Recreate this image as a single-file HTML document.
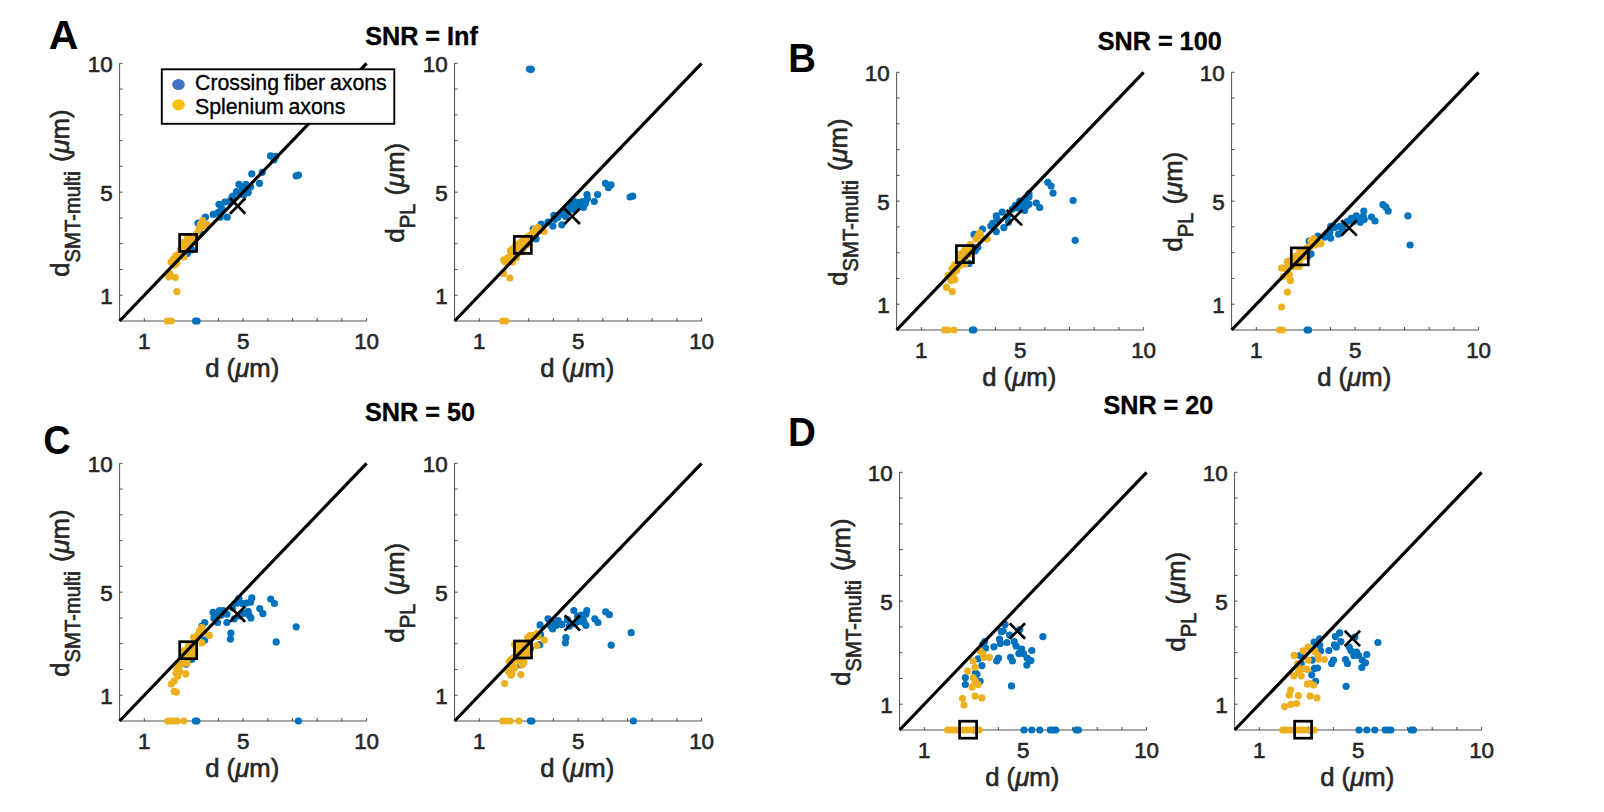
<!DOCTYPE html>
<html lang="en"><head><meta charset="utf-8"><title>Figure</title>
<style>html,body{margin:0;padding:0;background:#fff;overflow:hidden}svg{display:block}text{font-family:"Liberation Sans",Arial,Helvetica,sans-serif;fill:#262626}.t{font-size:22.4px}.l{font-size:25.7px}.s{font-size:20.3px}.t,.l{stroke:#262626;stroke-width:.6px}.ti{font-size:25.2px;font-weight:bold;fill:#000;stroke:#000;stroke-width:.35px}.pl{font-size:41px;font-weight:bold;fill:#000}.lg{font-size:21.3px;fill:#000;word-spacing:-1.2px;stroke:#000;stroke-width:.35px}.ax{stroke:#262626;stroke-width:.8;fill:none}.id{stroke:#000;stroke-width:3.2;stroke-linecap:butt}.mk{stroke:#000;stroke-width:2.7;fill:none}.b{fill:#0072BD}.y{fill:#EDB120}</style></head><body>
<svg width="1604" height="812" viewBox="0 0 1604 812">
<rect width="1604" height="812" fill="#fff"/>
<g id="A1">
<path class="ax" d="M119.60 63.30V321.00H366.60M144.30 321.00v-3M119.60 295.23h3M169.00 321.00v-3M119.60 269.46h3M193.70 321.00v-3M119.60 243.69h3M218.40 321.00v-3M119.60 217.92h3M243.10 321.00v-3M119.60 192.15h3M267.80 321.00v-3M119.60 166.38h3M292.50 321.00v-3M119.60 140.61h3M317.20 321.00v-3M119.60 114.84h3M341.90 321.00v-3M119.60 89.07h3M366.60 321.00v-3M119.60 63.30h3"/>
<g class="b"><circle cx="270.5" cy="155.9" r="3.6"/><circle cx="275.8" cy="156.4" r="3.6"/><circle cx="274.0" cy="159.9" r="3.6"/><circle cx="251.8" cy="173.9" r="3.6"/><circle cx="262.3" cy="172.3" r="3.6"/><circle cx="259.5" cy="183.3" r="3.6"/><circle cx="296.2" cy="175.8" r="3.6"/><circle cx="298.5" cy="175.1" r="3.6"/><circle cx="238.9" cy="184.4" r="3.6"/><circle cx="245.9" cy="184.4" r="3.6"/><circle cx="242.4" cy="188.0" r="3.6"/><circle cx="250.6" cy="186.8" r="3.6"/><circle cx="248.2" cy="192.6" r="3.6"/><circle cx="236.5" cy="191.5" r="3.6"/><circle cx="240.1" cy="193.8" r="3.6"/><circle cx="243.6" cy="195.0" r="3.6"/><circle cx="233.0" cy="196.1" r="3.6"/><circle cx="231.9" cy="197.3" r="3.6"/><circle cx="224.9" cy="202.0" r="3.6"/><circle cx="219.0" cy="204.3" r="3.6"/><circle cx="221.3" cy="207.8" r="3.6"/><circle cx="213.2" cy="214.4" r="3.6"/><circle cx="217.8" cy="212.5" r="3.6"/><circle cx="227.2" cy="217.2" r="3.6"/><circle cx="220.2" cy="217.2" r="3.6"/><circle cx="229.5" cy="201.3" r="3.6"/><circle cx="222.5" cy="210.2" r="3.6"/><circle cx="205.4" cy="217.2" r="3.6"/><circle cx="198.0" cy="223.0" r="3.6"/><circle cx="200.3" cy="233.6" r="3.6"/><circle cx="192.1" cy="249.9" r="3.6"/><circle cx="187.4" cy="253.5" r="3.6"/><circle cx="195.6" cy="321.0" r="3.6"/><circle cx="197.1" cy="321.0" r="3.6"/></g>
<g class="y"><circle cx="202.6" cy="220.7" r="3.6"/><circle cx="200.3" cy="224.2" r="3.6"/><circle cx="205.0" cy="225.4" r="3.6"/><circle cx="199.1" cy="228.9" r="3.6"/><circle cx="207.3" cy="224.7" r="3.6"/><circle cx="201.9" cy="227.0" r="3.6"/><circle cx="196.8" cy="233.6" r="3.6"/><circle cx="193.3" cy="238.2" r="3.6"/><circle cx="189.8" cy="240.6" r="3.6"/><circle cx="185.1" cy="242.9" r="3.6"/><circle cx="182.7" cy="245.3" r="3.6"/><circle cx="195.6" cy="235.9" r="3.6"/><circle cx="190.9" cy="242.9" r="3.6"/><circle cx="187.4" cy="245.3" r="3.6"/><circle cx="180.4" cy="249.9" r="3.6"/><circle cx="178.1" cy="254.6" r="3.6"/><circle cx="175.7" cy="255.8" r="3.6"/><circle cx="183.9" cy="257.0" r="3.6"/><circle cx="173.4" cy="259.3" r="3.6"/><circle cx="171.1" cy="262.1" r="3.6"/><circle cx="176.9" cy="262.8" r="3.6"/><circle cx="174.6" cy="265.1" r="3.6"/><circle cx="181.6" cy="252.3" r="3.6"/><circle cx="169.9" cy="273.8" r="3.6"/><circle cx="168.7" cy="276.8" r="3.6"/><circle cx="175.3" cy="277.5" r="3.6"/><circle cx="176.9" cy="291.6" r="3.6"/><circle cx="167.5" cy="321.0" r="3.6"/><circle cx="171.1" cy="321.0" r="3.6"/><circle cx="183.3" cy="242.4" r="3.6"/><circle cx="183.3" cy="246.7" r="3.6"/><circle cx="187.6" cy="238.1" r="3.6"/><circle cx="187.6" cy="242.4" r="3.6"/><circle cx="187.6" cy="246.7" r="3.6"/><circle cx="191.9" cy="238.1" r="3.6"/><circle cx="191.9" cy="242.4" r="3.6"/></g>
<line class="id" x1="119.60" y1="321.00" x2="366.60" y2="63.30"/>
<rect class="mk" x="179.6" y="234.4" width="17.0" height="17.0"/>
<path class="mk" d="M230.0 198.3l15.4 15.4M230.0 213.7l15.4 -15.4"/>
<text class="t" transform="translate(144.3 349.4) scale(1 1.01)" text-anchor="middle">1</text>
<text class="t" transform="translate(112.7 303.9) scale(1 1.01)" text-anchor="end">1</text>
<text class="t" transform="translate(243.1 349.4) scale(1 1.01)" text-anchor="middle">5</text>
<text class="t" transform="translate(112.7 200.8) scale(1 1.01)" text-anchor="end">5</text>
<text class="t" transform="translate(366.6 349.4) scale(1 1.01)" text-anchor="middle">10</text>
<text class="t" transform="translate(112.7 72.0) scale(1 1.01)" text-anchor="end">10</text>
<text class="l" x="242.2" y="377.1" text-anchor="middle">d (<tspan font-style="italic">μ</tspan>m)</text>
<g transform="translate(69.4 276.7) rotate(-90)">
<text class="l" x="0" y="0">d</text>
<text class="l" style="font-size:21.2px" transform="translate(14.29 10.9) scale(0.955 1)">SMT-multi</text>
<text class="l" x="114.61" y="0"> (<tspan font-style="italic">μ</tspan>m)</text>
</g>
</g>
<g id="A2">
<path class="ax" d="M454.60 63.30V321.00H701.60M479.30 321.00v-3M454.60 295.23h3M504.00 321.00v-3M454.60 269.46h3M528.70 321.00v-3M454.60 243.69h3M553.40 321.00v-3M454.60 217.92h3M578.10 321.00v-3M454.60 192.15h3M602.80 321.00v-3M454.60 166.38h3M627.50 321.00v-3M454.60 140.61h3M652.20 321.00v-3M454.60 114.84h3M676.90 321.00v-3M454.60 89.07h3M701.60 321.00v-3M454.60 63.30h3"/>
<g class="b"><circle cx="605.5" cy="183.4" r="3.6"/><circle cx="611.0" cy="184.8" r="3.6"/><circle cx="608.4" cy="187.7" r="3.6"/><circle cx="632.7" cy="196.2" r="3.6"/><circle cx="630.1" cy="197.0" r="3.6"/><circle cx="597.6" cy="194.6" r="3.6"/><circle cx="587.0" cy="194.6" r="3.6"/><circle cx="594.3" cy="201.5" r="3.6"/><circle cx="587.4" cy="198.6" r="3.6"/><circle cx="582.4" cy="201.5" r="3.6"/><circle cx="585.4" cy="203.5" r="3.6"/><circle cx="578.5" cy="202.5" r="3.6"/><circle cx="574.6" cy="201.5" r="3.6"/><circle cx="572.6" cy="204.5" r="3.6"/><circle cx="580.5" cy="205.5" r="3.6"/><circle cx="576.5" cy="206.4" r="3.6"/><circle cx="583.4" cy="207.4" r="3.6"/><circle cx="570.6" cy="207.4" r="3.6"/><circle cx="573.6" cy="209.4" r="3.6"/><circle cx="567.7" cy="210.4" r="3.6"/><circle cx="564.7" cy="212.4" r="3.6"/><circle cx="565.7" cy="216.3" r="3.6"/><circle cx="560.8" cy="214.3" r="3.6"/><circle cx="557.8" cy="217.3" r="3.6"/><circle cx="553.9" cy="215.3" r="3.6"/><circle cx="554.9" cy="219.3" r="3.6"/><circle cx="548.0" cy="222.2" r="3.6"/><circle cx="552.9" cy="226.1" r="3.6"/><circle cx="561.8" cy="224.8" r="3.6"/><circle cx="541.1" cy="224.2" r="3.6"/><circle cx="533.2" cy="229.1" r="3.6"/><circle cx="536.1" cy="239.0" r="3.6"/><circle cx="532.2" cy="237.0" r="3.6"/><circle cx="529.5" cy="69.1" r="3.6"/><circle cx="531.3" cy="69.3" r="3.6"/></g>
<g class="y"><circle cx="538.1" cy="227.5" r="3.6"/><circle cx="535.2" cy="229.1" r="3.6"/><circle cx="539.1" cy="230.1" r="3.6"/><circle cx="544.0" cy="231.5" r="3.6"/><circle cx="533.2" cy="232.1" r="3.6"/><circle cx="536.1" cy="233.0" r="3.6"/><circle cx="530.2" cy="235.0" r="3.6"/><circle cx="527.3" cy="237.0" r="3.6"/><circle cx="524.3" cy="239.9" r="3.6"/><circle cx="521.4" cy="241.9" r="3.6"/><circle cx="518.4" cy="243.9" r="3.6"/><circle cx="515.5" cy="245.8" r="3.6"/><circle cx="519.4" cy="247.8" r="3.6"/><circle cx="512.5" cy="248.8" r="3.6"/><circle cx="510.5" cy="250.8" r="3.6"/><circle cx="522.4" cy="251.8" r="3.6"/><circle cx="517.4" cy="253.7" r="3.6"/><circle cx="513.5" cy="254.7" r="3.6"/><circle cx="509.6" cy="256.7" r="3.6"/><circle cx="506.6" cy="258.7" r="3.6"/><circle cx="503.6" cy="260.0" r="3.6"/><circle cx="505.6" cy="262.2" r="3.6"/><circle cx="512.5" cy="262.2" r="3.6"/><circle cx="516.4" cy="257.7" r="3.6"/><circle cx="503.6" cy="273.4" r="3.6"/><circle cx="509.9" cy="278.0" r="3.6"/><circle cx="502.7" cy="321.0" r="3.6"/><circle cx="505.6" cy="321.0" r="3.6"/><circle cx="518.5" cy="244.9" r="3.6"/><circle cx="518.5" cy="249.2" r="3.6"/><circle cx="522.8" cy="240.6" r="3.6"/><circle cx="522.8" cy="244.9" r="3.6"/><circle cx="522.8" cy="249.2" r="3.6"/><circle cx="527.1" cy="240.6" r="3.6"/><circle cx="527.1" cy="244.9" r="3.6"/></g>
<line class="id" x1="454.60" y1="321.00" x2="701.60" y2="63.30"/>
<rect class="mk" x="514.3" y="236.4" width="17.0" height="17.0"/>
<path class="mk" d="M564.5 208.6l15.4 15.4M564.5 224.0l15.4 -15.4"/>
<text class="t" transform="translate(479.3 349.4) scale(1 1.01)" text-anchor="middle">1</text>
<text class="t" transform="translate(447.7 303.9) scale(1 1.01)" text-anchor="end">1</text>
<text class="t" transform="translate(578.1 349.4) scale(1 1.01)" text-anchor="middle">5</text>
<text class="t" transform="translate(447.7 200.8) scale(1 1.01)" text-anchor="end">5</text>
<text class="t" transform="translate(701.6 349.4) scale(1 1.01)" text-anchor="middle">10</text>
<text class="t" transform="translate(447.7 72.0) scale(1 1.01)" text-anchor="end">10</text>
<text class="l" x="577.2" y="377.1" text-anchor="middle">d (<tspan font-style="italic">μ</tspan>m)</text>
<g transform="translate(404.4 242.6) rotate(-90)">
<text class="l" x="0" y="0">d</text>
<text class="l" style="font-size:21.2px" transform="translate(14.29 10.9) scale(0.955 1)">PL</text>
<text class="l" x="47.15" y="0"> (<tspan font-style="italic">μ</tspan>m)</text>
</g>
</g>
<g id="B1">
<path class="ax" d="M896.60 72.30V330.00H1143.60M921.30 330.00v-3M896.60 304.23h3M946.00 330.00v-3M896.60 278.46h3M970.70 330.00v-3M896.60 252.69h3M995.40 330.00v-3M896.60 226.92h3M1020.10 330.00v-3M896.60 201.15h3M1044.80 330.00v-3M896.60 175.38h3M1069.50 330.00v-3M896.60 149.61h3M1094.20 330.00v-3M896.60 123.84h3M1118.90 330.00v-3M896.60 98.07h3M1143.60 330.00v-3M896.60 72.30h3"/>
<g class="b"><circle cx="996.3" cy="215.9" r="3.6"/><circle cx="997.2" cy="219.6" r="3.6"/><circle cx="992.6" cy="223.3" r="3.6"/><circle cx="990.8" cy="226.0" r="3.6"/><circle cx="996.3" cy="231.6" r="3.6"/><circle cx="982.5" cy="229.2" r="3.6"/><circle cx="974.1" cy="234.4" r="3.6"/><circle cx="977.8" cy="247.3" r="3.6"/><circle cx="975.1" cy="251.0" r="3.6"/><circle cx="969.1" cy="263.4" r="3.6"/><circle cx="972.3" cy="330.0" r="3.6"/><circle cx="1047.8" cy="182.3" r="3.6"/><circle cx="1051.1" cy="186.0" r="3.6"/><circle cx="1053.0" cy="193.1" r="3.6"/><circle cx="1073.1" cy="200.5" r="3.6"/><circle cx="1075.2" cy="240.3" r="3.6"/><circle cx="1036.3" cy="203.0" r="3.6"/><circle cx="1039.7" cy="207.5" r="3.6"/><circle cx="1029.0" cy="193.7" r="3.6"/><circle cx="1029.0" cy="196.8" r="3.6"/><circle cx="1025.9" cy="201.7" r="3.6"/><circle cx="1029.0" cy="204.2" r="3.6"/><circle cx="1026.5" cy="206.1" r="3.6"/><circle cx="1024.6" cy="210.4" r="3.6"/><circle cx="1019.7" cy="201.1" r="3.6"/><circle cx="1020.9" cy="205.4" r="3.6"/><circle cx="1015.4" cy="205.4" r="3.6"/><circle cx="1012.3" cy="209.1" r="3.6"/><circle cx="1002.2" cy="212.2" r="3.6"/><circle cx="1008.6" cy="222.1" r="3.6"/><circle cx="1003.9" cy="227.6" r="3.6"/><circle cx="1017.2" cy="207.9" r="3.6"/><circle cx="1022.8" cy="204.2" r="3.6"/><circle cx="1007.4" cy="216.5" r="3.6"/><circle cx="973.8" cy="330.0" r="3.6"/></g>
<g class="y"><circle cx="979.7" cy="232.9" r="3.6"/><circle cx="977.8" cy="236.2" r="3.6"/><circle cx="976.0" cy="239.0" r="3.6"/><circle cx="980.6" cy="236.2" r="3.6"/><circle cx="987.1" cy="239.0" r="3.6"/><circle cx="970.4" cy="244.5" r="3.6"/><circle cx="968.6" cy="247.3" r="3.6"/><circle cx="965.8" cy="250.1" r="3.6"/><circle cx="963.1" cy="252.8" r="3.6"/><circle cx="960.3" cy="255.6" r="3.6"/><circle cx="961.2" cy="259.3" r="3.6"/><circle cx="964.9" cy="263.9" r="3.6"/><circle cx="959.4" cy="265.8" r="3.6"/><circle cx="954.7" cy="264.8" r="3.6"/><circle cx="952.0" cy="268.5" r="3.6"/><circle cx="956.6" cy="270.4" r="3.6"/><circle cx="948.3" cy="275.0" r="3.6"/><circle cx="952.9" cy="275.9" r="3.6"/><circle cx="954.7" cy="279.6" r="3.6"/><circle cx="951.0" cy="280.6" r="3.6"/><circle cx="946.4" cy="287.4" r="3.6"/><circle cx="952.3" cy="291.6" r="3.6"/><circle cx="944.6" cy="330.0" r="3.6"/><circle cx="947.9" cy="330.0" r="3.6"/><circle cx="954.2" cy="330.0" r="3.6"/><circle cx="960.6" cy="254.1" r="3.6"/><circle cx="960.6" cy="258.4" r="3.6"/><circle cx="964.9" cy="249.8" r="3.6"/><circle cx="964.9" cy="254.1" r="3.6"/><circle cx="964.9" cy="258.4" r="3.6"/><circle cx="969.2" cy="249.8" r="3.6"/><circle cx="969.2" cy="254.1" r="3.6"/></g>
<line class="id" x1="896.60" y1="330.00" x2="1143.60" y2="72.30"/>
<rect class="mk" x="956.4" y="245.6" width="17.0" height="17.0"/>
<path class="mk" d="M1006.7 210.0l15.4 15.4M1006.7 225.4l15.4 -15.4"/>
<text class="t" transform="translate(921.3 358.4) scale(1 1.01)" text-anchor="middle">1</text>
<text class="t" transform="translate(889.7 312.9) scale(1 1.01)" text-anchor="end">1</text>
<text class="t" transform="translate(1020.1 358.4) scale(1 1.01)" text-anchor="middle">5</text>
<text class="t" transform="translate(889.7 209.8) scale(1 1.01)" text-anchor="end">5</text>
<text class="t" transform="translate(1143.6 358.4) scale(1 1.01)" text-anchor="middle">10</text>
<text class="t" transform="translate(889.7 81.0) scale(1 1.01)" text-anchor="end">10</text>
<text class="l" x="1019.2" y="386.1" text-anchor="middle">d (<tspan font-style="italic">μ</tspan>m)</text>
<g transform="translate(847.2 285.7) rotate(-90)">
<text class="l" x="0" y="0">d</text>
<text class="l" style="font-size:21.2px" transform="translate(14.29 10.9) scale(0.955 1)">SMT-multi</text>
<text class="l" x="114.61" y="0"> (<tspan font-style="italic">μ</tspan>m)</text>
</g>
</g>
<g id="B2">
<path class="ax" d="M1231.60 72.30V330.00H1478.60M1256.30 330.00v-3M1231.60 304.23h3M1281.00 330.00v-3M1231.60 278.46h3M1305.70 330.00v-3M1231.60 252.69h3M1330.40 330.00v-3M1231.60 226.92h3M1355.10 330.00v-3M1231.60 201.15h3M1379.80 330.00v-3M1231.60 175.38h3M1404.50 330.00v-3M1231.60 149.61h3M1429.20 330.00v-3M1231.60 123.84h3M1453.90 330.00v-3M1231.60 98.07h3M1478.60 330.00v-3M1231.60 72.30h3"/>
<g class="b"><circle cx="1382.9" cy="204.6" r="3.6"/><circle cx="1385.9" cy="207.2" r="3.6"/><circle cx="1388.2" cy="211.1" r="3.6"/><circle cx="1407.9" cy="215.8" r="3.6"/><circle cx="1410.1" cy="245.0" r="3.6"/><circle cx="1371.5" cy="217.0" r="3.6"/><circle cx="1375.0" cy="221.0" r="3.6"/><circle cx="1363.8" cy="211.1" r="3.6"/><circle cx="1363.2" cy="216.4" r="3.6"/><circle cx="1364.2" cy="219.4" r="3.6"/><circle cx="1360.3" cy="222.3" r="3.6"/><circle cx="1356.3" cy="215.8" r="3.6"/><circle cx="1351.4" cy="218.4" r="3.6"/><circle cx="1353.4" cy="221.4" r="3.6"/><circle cx="1347.5" cy="221.4" r="3.6"/><circle cx="1344.5" cy="224.3" r="3.6"/><circle cx="1339.6" cy="226.3" r="3.6"/><circle cx="1342.6" cy="229.2" r="3.6"/><circle cx="1338.6" cy="234.2" r="3.6"/><circle cx="1334.7" cy="227.3" r="3.6"/><circle cx="1330.7" cy="226.3" r="3.6"/><circle cx="1329.8" cy="232.2" r="3.6"/><circle cx="1326.8" cy="234.2" r="3.6"/><circle cx="1330.7" cy="238.1" r="3.6"/><circle cx="1324.8" cy="237.1" r="3.6"/><circle cx="1317.9" cy="236.1" r="3.6"/><circle cx="1309.1" cy="241.0" r="3.6"/><circle cx="1311.0" cy="253.8" r="3.6"/><circle cx="1308.1" cy="255.8" r="3.6"/><circle cx="1357.3" cy="219.4" r="3.6"/><circle cx="1307.1" cy="330.0" r="3.6"/><circle cx="1308.6" cy="330.0" r="3.6"/></g>
<g class="y"><circle cx="1314.0" cy="238.7" r="3.6"/><circle cx="1311.0" cy="241.0" r="3.6"/><circle cx="1316.0" cy="241.0" r="3.6"/><circle cx="1320.9" cy="243.6" r="3.6"/><circle cx="1315.0" cy="245.0" r="3.6"/><circle cx="1310.1" cy="247.0" r="3.6"/><circle cx="1307.1" cy="247.9" r="3.6"/><circle cx="1303.2" cy="251.9" r="3.6"/><circle cx="1300.2" cy="253.8" r="3.6"/><circle cx="1297.3" cy="255.8" r="3.6"/><circle cx="1294.3" cy="257.8" r="3.6"/><circle cx="1291.4" cy="259.8" r="3.6"/><circle cx="1287.4" cy="261.7" r="3.6"/><circle cx="1289.4" cy="264.7" r="3.6"/><circle cx="1281.5" cy="268.2" r="3.6"/><circle cx="1285.4" cy="268.6" r="3.6"/><circle cx="1295.3" cy="266.6" r="3.6"/><circle cx="1299.2" cy="266.6" r="3.6"/><circle cx="1283.5" cy="276.5" r="3.6"/><circle cx="1289.4" cy="274.5" r="3.6"/><circle cx="1290.4" cy="280.4" r="3.6"/><circle cx="1287.4" cy="292.2" r="3.6"/><circle cx="1281.5" cy="307.0" r="3.6"/><circle cx="1279.5" cy="330.0" r="3.6"/><circle cx="1282.5" cy="330.0" r="3.6"/><circle cx="1295.5" cy="256.4" r="3.6"/><circle cx="1295.5" cy="260.7" r="3.6"/><circle cx="1299.8" cy="252.1" r="3.6"/><circle cx="1299.8" cy="256.4" r="3.6"/><circle cx="1299.8" cy="260.7" r="3.6"/><circle cx="1304.1" cy="252.1" r="3.6"/><circle cx="1304.1" cy="256.4" r="3.6"/></g>
<line class="id" x1="1231.60" y1="330.00" x2="1478.60" y2="72.30"/>
<rect class="mk" x="1291.3" y="247.9" width="17.0" height="17.0"/>
<path class="mk" d="M1341.4 220.2l15.4 15.4M1341.4 235.6l15.4 -15.4"/>
<text class="t" transform="translate(1256.3 358.4) scale(1 1.01)" text-anchor="middle">1</text>
<text class="t" transform="translate(1224.7 312.9) scale(1 1.01)" text-anchor="end">1</text>
<text class="t" transform="translate(1355.1 358.4) scale(1 1.01)" text-anchor="middle">5</text>
<text class="t" transform="translate(1224.7 209.8) scale(1 1.01)" text-anchor="end">5</text>
<text class="t" transform="translate(1478.6 358.4) scale(1 1.01)" text-anchor="middle">10</text>
<text class="t" transform="translate(1224.7 81.0) scale(1 1.01)" text-anchor="end">10</text>
<text class="l" x="1354.2" y="386.1" text-anchor="middle">d (<tspan font-style="italic">μ</tspan>m)</text>
<g transform="translate(1182.2 251.6) rotate(-90)">
<text class="l" x="0" y="0">d</text>
<text class="l" style="font-size:21.2px" transform="translate(14.29 10.9) scale(0.955 1)">PL</text>
<text class="l" x="47.15" y="0"> (<tspan font-style="italic">μ</tspan>m)</text>
</g>
</g>
<g id="C1">
<path class="ax" d="M119.60 463.30V721.00H366.60M144.30 721.00v-3M119.60 695.23h3M169.00 721.00v-3M119.60 669.46h3M193.70 721.00v-3M119.60 643.69h3M218.40 721.00v-3M119.60 617.92h3M243.10 721.00v-3M119.60 592.15h3M267.80 721.00v-3M119.60 566.38h3M292.50 721.00v-3M119.60 540.61h3M317.20 721.00v-3M119.60 514.84h3M341.90 721.00v-3M119.60 489.07h3M366.60 721.00v-3M119.60 463.30h3"/>
<g class="b"><circle cx="270.7" cy="599.0" r="3.6"/><circle cx="274.4" cy="603.5" r="3.6"/><circle cx="296.2" cy="626.8" r="3.6"/><circle cx="276.2" cy="641.9" r="3.6"/><circle cx="259.8" cy="608.6" r="3.6"/><circle cx="262.9" cy="613.6" r="3.6"/><circle cx="251.8" cy="597.9" r="3.6"/><circle cx="250.5" cy="602.2" r="3.6"/><circle cx="246.3" cy="603.1" r="3.6"/><circle cx="242.6" cy="603.7" r="3.6"/><circle cx="238.9" cy="598.5" r="3.6"/><circle cx="237.0" cy="603.1" r="3.6"/><circle cx="248.1" cy="611.4" r="3.6"/><circle cx="249.0" cy="615.1" r="3.6"/><circle cx="250.9" cy="617.9" r="3.6"/><circle cx="243.5" cy="613.3" r="3.6"/><circle cx="239.8" cy="616.0" r="3.6"/><circle cx="234.3" cy="618.8" r="3.6"/><circle cx="226.9" cy="622.5" r="3.6"/><circle cx="230.9" cy="633.2" r="3.6"/><circle cx="230.4" cy="639.1" r="3.6"/><circle cx="223.2" cy="610.5" r="3.6"/><circle cx="219.5" cy="610.5" r="3.6"/><circle cx="213.0" cy="612.3" r="3.6"/><circle cx="215.8" cy="616.0" r="3.6"/><circle cx="213.9" cy="617.9" r="3.6"/><circle cx="221.3" cy="615.1" r="3.6"/><circle cx="226.9" cy="614.2" r="3.6"/><circle cx="232.4" cy="607.7" r="3.6"/><circle cx="217.6" cy="622.5" r="3.6"/><circle cx="204.7" cy="622.5" r="3.6"/><circle cx="201.9" cy="626.2" r="3.6"/><circle cx="204.7" cy="640.1" r="3.6"/><circle cx="191.7" cy="659.5" r="3.6"/><circle cx="186.2" cy="664.1" r="3.6"/><circle cx="195.4" cy="721.0" r="3.6"/><circle cx="298.4" cy="721.0" r="3.6"/><circle cx="196.9" cy="721.0" r="3.6"/></g>
<g class="y"><circle cx="201.9" cy="627.7" r="3.6"/><circle cx="199.5" cy="630.8" r="3.6"/><circle cx="202.8" cy="632.7" r="3.6"/><circle cx="198.2" cy="634.5" r="3.6"/><circle cx="209.3" cy="635.4" r="3.6"/><circle cx="193.6" cy="637.3" r="3.6"/><circle cx="195.4" cy="640.1" r="3.6"/><circle cx="201.9" cy="642.8" r="3.6"/><circle cx="186.2" cy="653.0" r="3.6"/><circle cx="183.4" cy="654.8" r="3.6"/><circle cx="188.1" cy="657.6" r="3.6"/><circle cx="184.4" cy="661.3" r="3.6"/><circle cx="187.1" cy="663.2" r="3.6"/><circle cx="181.6" cy="664.1" r="3.6"/><circle cx="178.8" cy="665.9" r="3.6"/><circle cx="177.0" cy="668.7" r="3.6"/><circle cx="179.7" cy="671.5" r="3.6"/><circle cx="176.0" cy="673.3" r="3.6"/><circle cx="177.9" cy="676.1" r="3.6"/><circle cx="185.8" cy="673.9" r="3.6"/><circle cx="174.2" cy="681.1" r="3.6"/><circle cx="171.4" cy="684.0" r="3.6"/><circle cx="174.2" cy="691.4" r="3.6"/><circle cx="176.4" cy="692.2" r="3.6"/><circle cx="167.7" cy="721.0" r="3.6"/><circle cx="170.5" cy="721.0" r="3.6"/><circle cx="174.2" cy="721.0" r="3.6"/><circle cx="177.0" cy="721.0" r="3.6"/><circle cx="183.8" cy="721.0" r="3.6"/><circle cx="184.2" cy="650.5" r="3.6"/><circle cx="184.2" cy="654.8" r="3.6"/><circle cx="188.5" cy="646.2" r="3.6"/><circle cx="188.5" cy="650.5" r="3.6"/><circle cx="188.5" cy="654.8" r="3.6"/><circle cx="192.8" cy="646.2" r="3.6"/><circle cx="192.8" cy="650.5" r="3.6"/><circle cx="192.8" cy="654.8" r="3.6"/></g>
<line class="id" x1="119.60" y1="721.00" x2="366.60" y2="463.30"/>
<rect class="mk" x="179.7" y="641.7" width="17.0" height="17.0"/>
<path class="mk" d="M229.7 606.5l15.4 15.4M229.7 621.9l15.4 -15.4"/>
<text class="t" transform="translate(144.3 749.4) scale(1 1.01)" text-anchor="middle">1</text>
<text class="t" transform="translate(112.7 703.9) scale(1 1.01)" text-anchor="end">1</text>
<text class="t" transform="translate(243.1 749.4) scale(1 1.01)" text-anchor="middle">5</text>
<text class="t" transform="translate(112.7 600.9) scale(1 1.01)" text-anchor="end">5</text>
<text class="t" transform="translate(366.6 749.4) scale(1 1.01)" text-anchor="middle">10</text>
<text class="t" transform="translate(112.7 472.0) scale(1 1.01)" text-anchor="end">10</text>
<text class="l" x="242.2" y="777.1" text-anchor="middle">d (<tspan font-style="italic">μ</tspan>m)</text>
<g transform="translate(69.4 676.7) rotate(-90)">
<text class="l" x="0" y="0">d</text>
<text class="l" style="font-size:21.2px" transform="translate(14.29 10.9) scale(0.955 1)">SMT-multi</text>
<text class="l" x="114.61" y="0"> (<tspan font-style="italic">μ</tspan>m)</text>
</g>
</g>
<g id="C2">
<path class="ax" d="M454.60 463.30V721.00H701.60M479.30 721.00v-3M454.60 695.23h3M504.00 721.00v-3M454.60 669.46h3M528.70 721.00v-3M454.60 643.69h3M553.40 721.00v-3M454.60 617.92h3M578.10 721.00v-3M454.60 592.15h3M602.80 721.00v-3M454.60 566.38h3M627.50 721.00v-3M454.60 540.61h3M652.20 721.00v-3M454.60 514.84h3M676.90 721.00v-3M454.60 489.07h3M701.60 721.00v-3M454.60 463.30h3"/>
<g class="b"><circle cx="605.7" cy="611.8" r="3.6"/><circle cx="609.4" cy="614.7" r="3.6"/><circle cx="631.2" cy="632.7" r="3.6"/><circle cx="611.2" cy="645.2" r="3.6"/><circle cx="594.8" cy="618.8" r="3.6"/><circle cx="597.9" cy="622.5" r="3.6"/><circle cx="586.8" cy="610.5" r="3.6"/><circle cx="585.9" cy="614.2" r="3.6"/><circle cx="581.3" cy="615.1" r="3.6"/><circle cx="573.9" cy="610.5" r="3.6"/><circle cx="577.6" cy="616.0" r="3.6"/><circle cx="583.1" cy="619.7" r="3.6"/><circle cx="584.0" cy="622.5" r="3.6"/><circle cx="585.9" cy="625.3" r="3.6"/><circle cx="578.5" cy="621.6" r="3.6"/><circle cx="574.8" cy="623.4" r="3.6"/><circle cx="569.3" cy="626.2" r="3.6"/><circle cx="561.9" cy="624.4" r="3.6"/><circle cx="565.9" cy="637.7" r="3.6"/><circle cx="565.4" cy="642.8" r="3.6"/><circle cx="558.2" cy="620.7" r="3.6"/><circle cx="554.5" cy="623.4" r="3.6"/><circle cx="548.0" cy="618.8" r="3.6"/><circle cx="550.8" cy="626.2" r="3.6"/><circle cx="552.6" cy="629.0" r="3.6"/><circle cx="556.3" cy="625.3" r="3.6"/><circle cx="567.4" cy="619.7" r="3.6"/><circle cx="540.1" cy="624.9" r="3.6"/><circle cx="540.6" cy="634.5" r="3.6"/><circle cx="539.7" cy="644.7" r="3.6"/><circle cx="530.4" cy="648.4" r="3.6"/><circle cx="520.3" cy="665.0" r="3.6"/><circle cx="530.4" cy="721.0" r="3.6"/><circle cx="633.4" cy="721.0" r="3.6"/><circle cx="531.9" cy="721.0" r="3.6"/></g>
<g class="y"><circle cx="536.9" cy="633.6" r="3.6"/><circle cx="534.1" cy="635.4" r="3.6"/><circle cx="537.8" cy="636.4" r="3.6"/><circle cx="530.4" cy="635.4" r="3.6"/><circle cx="527.7" cy="637.3" r="3.6"/><circle cx="544.3" cy="640.1" r="3.6"/><circle cx="536.9" cy="645.6" r="3.6"/><circle cx="528.6" cy="641.0" r="3.6"/><circle cx="524.9" cy="643.8" r="3.6"/><circle cx="514.7" cy="644.7" r="3.6"/><circle cx="521.2" cy="653.9" r="3.6"/><circle cx="518.4" cy="655.8" r="3.6"/><circle cx="523.1" cy="657.6" r="3.6"/><circle cx="519.4" cy="661.3" r="3.6"/><circle cx="524.0" cy="662.2" r="3.6"/><circle cx="522.1" cy="665.0" r="3.6"/><circle cx="516.6" cy="659.5" r="3.6"/><circle cx="513.8" cy="657.6" r="3.6"/><circle cx="511.0" cy="659.5" r="3.6"/><circle cx="509.2" cy="661.3" r="3.6"/><circle cx="512.0" cy="664.1" r="3.6"/><circle cx="514.7" cy="667.8" r="3.6"/><circle cx="510.1" cy="668.7" r="3.6"/><circle cx="508.3" cy="671.5" r="3.6"/><circle cx="512.0" cy="673.3" r="3.6"/><circle cx="511.0" cy="675.2" r="3.6"/><circle cx="520.8" cy="674.6" r="3.6"/><circle cx="504.6" cy="683.5" r="3.6"/><circle cx="502.7" cy="721.0" r="3.6"/><circle cx="505.5" cy="721.0" r="3.6"/><circle cx="510.1" cy="721.0" r="3.6"/><circle cx="518.8" cy="721.0" r="3.6"/><circle cx="518.7" cy="645.2" r="3.6"/><circle cx="518.7" cy="649.5" r="3.6"/><circle cx="518.7" cy="653.8" r="3.6"/><circle cx="523.0" cy="645.2" r="3.6"/><circle cx="523.0" cy="649.5" r="3.6"/><circle cx="523.0" cy="653.8" r="3.6"/><circle cx="527.3" cy="645.2" r="3.6"/><circle cx="527.3" cy="649.5" r="3.6"/><circle cx="527.3" cy="653.8" r="3.6"/></g>
<line class="id" x1="454.60" y1="721.00" x2="701.60" y2="463.30"/>
<rect class="mk" x="514.5" y="641.0" width="17.0" height="17.0"/>
<path class="mk" d="M564.7 615.2l15.4 15.4M564.7 630.6l15.4 -15.4"/>
<text class="t" transform="translate(479.3 749.4) scale(1 1.01)" text-anchor="middle">1</text>
<text class="t" transform="translate(447.7 703.9) scale(1 1.01)" text-anchor="end">1</text>
<text class="t" transform="translate(578.1 749.4) scale(1 1.01)" text-anchor="middle">5</text>
<text class="t" transform="translate(447.7 600.9) scale(1 1.01)" text-anchor="end">5</text>
<text class="t" transform="translate(701.6 749.4) scale(1 1.01)" text-anchor="middle">10</text>
<text class="t" transform="translate(447.7 472.0) scale(1 1.01)" text-anchor="end">10</text>
<text class="l" x="577.2" y="777.1" text-anchor="middle">d (<tspan font-style="italic">μ</tspan>m)</text>
<g transform="translate(404.4 642.6) rotate(-90)">
<text class="l" x="0" y="0">d</text>
<text class="l" style="font-size:21.2px" transform="translate(14.29 10.9) scale(0.955 1)">PL</text>
<text class="l" x="47.15" y="0"> (<tspan font-style="italic">μ</tspan>m)</text>
</g>
</g>
<g id="D1">
<path class="ax" d="M899.60 472.30V730.00H1146.60M924.30 730.00v-3M899.60 704.23h3M949.00 730.00v-3M899.60 678.46h3M973.70 730.00v-3M899.60 652.69h3M998.40 730.00v-3M899.60 626.92h3M1023.10 730.00v-3M899.60 601.15h3M1047.80 730.00v-3M899.60 575.38h3M1072.50 730.00v-3M899.60 549.61h3M1097.20 730.00v-3M899.60 523.84h3M1121.90 730.00v-3M899.60 498.07h3M1146.60 730.00v-3M899.60 472.30h3"/>
<g class="b"><circle cx="1005.0" cy="624.4" r="3.6"/><circle cx="1001.3" cy="631.4" r="3.6"/><circle cx="1009.6" cy="635.1" r="3.6"/><circle cx="1019.8" cy="629.6" r="3.6"/><circle cx="1042.9" cy="636.6" r="3.6"/><circle cx="999.5" cy="639.2" r="3.6"/><circle cx="1000.4" cy="643.4" r="3.6"/><circle cx="1006.9" cy="642.5" r="3.6"/><circle cx="1014.3" cy="641.6" r="3.6"/><circle cx="1016.1" cy="646.2" r="3.6"/><circle cx="993.9" cy="646.8" r="3.6"/><circle cx="984.7" cy="641.6" r="3.6"/><circle cx="982.8" cy="644.4" r="3.6"/><circle cx="985.6" cy="648.1" r="3.6"/><circle cx="1021.6" cy="649.0" r="3.6"/><circle cx="1018.9" cy="653.6" r="3.6"/><circle cx="1023.5" cy="653.6" r="3.6"/><circle cx="1031.8" cy="650.5" r="3.6"/><circle cx="1027.2" cy="658.2" r="3.6"/><circle cx="1030.9" cy="660.6" r="3.6"/><circle cx="1026.8" cy="665.1" r="3.6"/><circle cx="1010.6" cy="657.3" r="3.6"/><circle cx="1012.4" cy="661.0" r="3.6"/><circle cx="998.5" cy="658.2" r="3.6"/><circle cx="996.7" cy="661.0" r="3.6"/><circle cx="978.2" cy="658.8" r="3.6"/><circle cx="981.9" cy="665.6" r="3.6"/><circle cx="975.4" cy="673.0" r="3.6"/><circle cx="976.9" cy="674.3" r="3.6"/><circle cx="965.3" cy="677.6" r="3.6"/><circle cx="965.3" cy="684.5" r="3.6"/><circle cx="980.1" cy="681.3" r="3.6"/><circle cx="1011.5" cy="685.9" r="3.6"/><circle cx="1003.2" cy="631.0" r="3.6"/><circle cx="1024.0" cy="730.0" r="3.6"/><circle cx="1031.8" cy="730.0" r="3.6"/><circle cx="1039.8" cy="730.0" r="3.6"/><circle cx="1050.3" cy="730.0" r="3.6"/><circle cx="1053.1" cy="730.0" r="3.6"/><circle cx="1055.8" cy="730.0" r="3.6"/><circle cx="1076.2" cy="730.0" r="3.6"/><circle cx="1078.4" cy="730.0" r="3.6"/><circle cx="974.5" cy="730.0" r="3.6"/></g>
<g class="y"><circle cx="980.1" cy="650.8" r="3.6"/><circle cx="982.8" cy="653.6" r="3.6"/><circle cx="983.8" cy="657.3" r="3.6"/><circle cx="989.3" cy="657.3" r="3.6"/><circle cx="973.2" cy="661.0" r="3.6"/><circle cx="975.1" cy="667.5" r="3.6"/><circle cx="967.7" cy="671.2" r="3.6"/><circle cx="973.2" cy="677.6" r="3.6"/><circle cx="975.4" cy="681.3" r="3.6"/><circle cx="978.2" cy="684.6" r="3.6"/><circle cx="972.1" cy="686.9" r="3.6"/><circle cx="975.1" cy="696.1" r="3.6"/><circle cx="981.9" cy="697.9" r="3.6"/><circle cx="962.5" cy="698.5" r="3.6"/><circle cx="964.0" cy="705.0" r="3.6"/><circle cx="947.7" cy="730.0" r="3.6"/><circle cx="949.9" cy="730.0" r="3.6"/><circle cx="952.9" cy="730.0" r="3.6"/><circle cx="956.0" cy="730.0" r="3.6"/><circle cx="959.7" cy="730.0" r="3.6"/><circle cx="963.4" cy="730.0" r="3.6"/><circle cx="967.1" cy="730.0" r="3.6"/><circle cx="970.8" cy="730.0" r="3.6"/><circle cx="979.1" cy="730.0" r="3.6"/><circle cx="976.4" cy="730.0" r="3.6"/></g>
<line class="id" x1="899.60" y1="730.00" x2="1146.60" y2="472.30"/>
<rect class="mk" x="959.6" y="721.2" width="17.0" height="17.0"/>
<path class="mk" d="M1009.7 623.3l15.4 15.4M1009.7 638.7l15.4 -15.4"/>
<text class="t" transform="translate(924.3 758.4) scale(1 1.01)" text-anchor="middle">1</text>
<text class="t" transform="translate(892.7 712.9) scale(1 1.01)" text-anchor="end">1</text>
<text class="t" transform="translate(1023.1 758.4) scale(1 1.01)" text-anchor="middle">5</text>
<text class="t" transform="translate(892.7 609.9) scale(1 1.01)" text-anchor="end">5</text>
<text class="t" transform="translate(1146.6 758.4) scale(1 1.01)" text-anchor="middle">10</text>
<text class="t" transform="translate(892.7 481.0) scale(1 1.01)" text-anchor="end">10</text>
<text class="l" x="1022.2" y="786.1" text-anchor="middle">d (<tspan font-style="italic">μ</tspan>m)</text>
<g transform="translate(850.2 685.7) rotate(-90)">
<text class="l" x="0" y="0">d</text>
<text class="l" style="font-size:21.2px" transform="translate(14.29 10.9) scale(0.955 1)">SMT-multi</text>
<text class="l" x="114.61" y="0"> (<tspan font-style="italic">μ</tspan>m)</text>
</g>
</g>
<g id="D2">
<path class="ax" d="M1234.60 472.30V730.00H1481.60M1259.30 730.00v-3M1234.60 704.23h3M1284.00 730.00v-3M1234.60 678.46h3M1308.70 730.00v-3M1234.60 652.69h3M1333.40 730.00v-3M1234.60 626.92h3M1358.10 730.00v-3M1234.60 601.15h3M1382.80 730.00v-3M1234.60 575.38h3M1407.50 730.00v-3M1234.60 549.61h3M1432.20 730.00v-3M1234.60 523.84h3M1456.90 730.00v-3M1234.60 498.07h3M1481.60 730.00v-3M1234.60 472.30h3"/>
<g class="b"><circle cx="1339.6" cy="632.9" r="3.6"/><circle cx="1335.4" cy="636.6" r="3.6"/><circle cx="1340.9" cy="641.6" r="3.6"/><circle cx="1354.8" cy="637.0" r="3.6"/><circle cx="1377.9" cy="642.5" r="3.6"/><circle cx="1334.5" cy="644.9" r="3.6"/><circle cx="1328.9" cy="650.5" r="3.6"/><circle cx="1319.7" cy="638.8" r="3.6"/><circle cx="1314.1" cy="642.1" r="3.6"/><circle cx="1319.7" cy="645.3" r="3.6"/><circle cx="1320.6" cy="650.8" r="3.6"/><circle cx="1349.3" cy="647.1" r="3.6"/><circle cx="1351.1" cy="650.8" r="3.6"/><circle cx="1356.6" cy="652.1" r="3.6"/><circle cx="1353.9" cy="655.4" r="3.6"/><circle cx="1358.5" cy="655.4" r="3.6"/><circle cx="1366.8" cy="654.5" r="3.6"/><circle cx="1362.2" cy="660.1" r="3.6"/><circle cx="1365.5" cy="662.8" r="3.6"/><circle cx="1361.8" cy="667.5" r="3.6"/><circle cx="1345.6" cy="659.5" r="3.6"/><circle cx="1347.4" cy="663.4" r="3.6"/><circle cx="1333.5" cy="660.1" r="3.6"/><circle cx="1331.7" cy="663.4" r="3.6"/><circle cx="1312.3" cy="660.1" r="3.6"/><circle cx="1314.5" cy="668.4" r="3.6"/><circle cx="1317.5" cy="668.0" r="3.6"/><circle cx="1311.7" cy="674.8" r="3.6"/><circle cx="1315.6" cy="681.3" r="3.6"/><circle cx="1346.1" cy="686.3" r="3.6"/><circle cx="1300.3" cy="655.4" r="3.6"/><circle cx="1301.2" cy="663.8" r="3.6"/><circle cx="1336.3" cy="647.1" r="3.6"/><circle cx="1359.0" cy="730.0" r="3.6"/><circle cx="1366.8" cy="730.0" r="3.6"/><circle cx="1374.8" cy="730.0" r="3.6"/><circle cx="1385.3" cy="730.0" r="3.6"/><circle cx="1388.1" cy="730.0" r="3.6"/><circle cx="1390.8" cy="730.0" r="3.6"/><circle cx="1411.2" cy="730.0" r="3.6"/><circle cx="1413.4" cy="730.0" r="3.6"/><circle cx="1309.5" cy="730.0" r="3.6"/></g>
<g class="y"><circle cx="1308.2" cy="647.1" r="3.6"/><circle cx="1303.1" cy="650.8" r="3.6"/><circle cx="1315.1" cy="651.7" r="3.6"/><circle cx="1317.8" cy="655.4" r="3.6"/><circle cx="1294.2" cy="655.4" r="3.6"/><circle cx="1318.8" cy="659.1" r="3.6"/><circle cx="1324.3" cy="659.5" r="3.6"/><circle cx="1308.2" cy="660.1" r="3.6"/><circle cx="1297.5" cy="663.8" r="3.6"/><circle cx="1299.4" cy="669.3" r="3.6"/><circle cx="1304.0" cy="668.7" r="3.6"/><circle cx="1307.3" cy="669.3" r="3.6"/><circle cx="1293.8" cy="675.8" r="3.6"/><circle cx="1301.2" cy="675.8" r="3.6"/><circle cx="1298.4" cy="672.1" r="3.6"/><circle cx="1307.3" cy="684.1" r="3.6"/><circle cx="1310.4" cy="683.5" r="3.6"/><circle cx="1313.6" cy="685.0" r="3.6"/><circle cx="1290.7" cy="690.0" r="3.6"/><circle cx="1289.2" cy="695.2" r="3.6"/><circle cx="1298.4" cy="695.7" r="3.6"/><circle cx="1310.1" cy="696.1" r="3.6"/><circle cx="1316.9" cy="697.9" r="3.6"/><circle cx="1284.6" cy="706.6" r="3.6"/><circle cx="1290.7" cy="704.4" r="3.6"/><circle cx="1296.6" cy="703.5" r="3.6"/><circle cx="1282.7" cy="730.0" r="3.6"/><circle cx="1284.9" cy="730.0" r="3.6"/><circle cx="1287.9" cy="730.0" r="3.6"/><circle cx="1291.0" cy="730.0" r="3.6"/><circle cx="1294.7" cy="730.0" r="3.6"/><circle cx="1298.4" cy="730.0" r="3.6"/><circle cx="1302.1" cy="730.0" r="3.6"/><circle cx="1305.8" cy="730.0" r="3.6"/><circle cx="1311.4" cy="730.0" r="3.6"/><circle cx="1314.1" cy="730.0" r="3.6"/></g>
<line class="id" x1="1234.60" y1="730.00" x2="1481.60" y2="472.30"/>
<rect class="mk" x="1294.6" y="721.2" width="17.0" height="17.0"/>
<path class="mk" d="M1344.7 630.7l15.4 15.4M1344.7 646.1l15.4 -15.4"/>
<text class="t" transform="translate(1259.3 758.4) scale(1 1.01)" text-anchor="middle">1</text>
<text class="t" transform="translate(1227.7 712.9) scale(1 1.01)" text-anchor="end">1</text>
<text class="t" transform="translate(1358.1 758.4) scale(1 1.01)" text-anchor="middle">5</text>
<text class="t" transform="translate(1227.7 609.9) scale(1 1.01)" text-anchor="end">5</text>
<text class="t" transform="translate(1481.6 758.4) scale(1 1.01)" text-anchor="middle">10</text>
<text class="t" transform="translate(1227.7 481.0) scale(1 1.01)" text-anchor="end">10</text>
<text class="l" x="1357.2" y="786.1" text-anchor="middle">d (<tspan font-style="italic">μ</tspan>m)</text>
<g transform="translate(1185.2 651.6) rotate(-90)">
<text class="l" x="0" y="0">d</text>
<text class="l" style="font-size:21.2px" transform="translate(14.29 10.9) scale(0.955 1)">PL</text>
<text class="l" x="47.15" y="0"> (<tspan font-style="italic">μ</tspan>m)</text>
</g>
</g>
<text class="ti" x="421.5" y="45.1" text-anchor="middle">SNR = Inf</text>
<text class="ti" x="1159.7" y="49.8" text-anchor="middle">SNR = 100</text>
<text class="ti" x="420.0" y="421.1" text-anchor="middle">SNR = 50</text>
<text class="ti" x="1158.4" y="414.0" text-anchor="middle">SNR = 20</text>
<text class="pl" transform="translate(48.8 49.0) scale(1.000 1)">A</text>
<text class="pl" transform="translate(788.2 72.0) scale(0.935 1)">B</text>
<text class="pl" transform="translate(43.2 454.1) scale(0.925 1)">C</text>
<text class="pl" transform="translate(788.0 446.1) scale(0.940 1)">D</text>
<rect x="161.8" y="69.3" width="232.5" height="54.5" fill="#fff" stroke="#000" stroke-width="1.9"/>
<ellipse cx="178.5" cy="84.5" rx="6.3" ry="5.6" fill="#4472C4"/>
<ellipse cx="178.5" cy="104.8" rx="6.3" ry="5.6" fill="#FFC000"/>
<text class="lg" x="195" y="89.5">Crossing fiber axons</text>
<text class="lg" x="195" y="114">Splenium axons</text>
</svg></body></html>
